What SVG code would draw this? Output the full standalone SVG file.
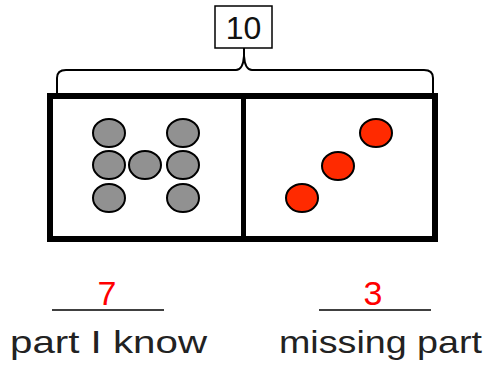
<svg xmlns="http://www.w3.org/2000/svg" width="486" height="366" viewBox="0 0 486 366">
<style>
.thin{fill:none;stroke:#000;stroke-width:2}
.gray{fill:#919191;stroke:#000;stroke-width:2}
.red{fill:#ff2a00;stroke:#000;stroke-width:2}
.lbl{font-family:"Liberation Sans",Arial,sans-serif;font-size:32px;fill:#222}
.num{font-family:"Liberation Sans",Arial,sans-serif;font-size:34px;fill:#ff0000;text-anchor:middle}
</style>
<rect width="486" height="366" fill="#fff"/>
<g id="total">
<rect x="215" y="6" width="57" height="42" fill="#fff" stroke="#000" stroke-width="1.5"/>
<text x="243.5" y="39" text-anchor="middle" font-family="Liberation Sans,Arial,sans-serif" font-size="32" fill="#111">10</text>
</g>
<g id="connectors">
<path class="thin" d="M57,93 V78 Q57,70 66,70 H236 Q243,70 244,56 V48 M244,56 Q245,70 252,70 H424 Q433,70 433,78 V93"/>
</g>
<g id="bar">
<rect x="50" y="96" width="385" height="143" fill="#fff" stroke="#000" stroke-width="6"/>
<line x1="243.5" y1="96" x2="243.5" y2="239" stroke="#000" stroke-width="5"/>
</g>
<g id="known-dots">
<ellipse class="gray" cx="109" cy="133" rx="16" ry="14"/>
<ellipse class="gray" cx="183" cy="133" rx="16" ry="14"/>
<ellipse class="gray" cx="109" cy="165" rx="16" ry="14"/>
<ellipse class="gray" cx="145" cy="165" rx="16" ry="14"/>
<ellipse class="gray" cx="183" cy="165" rx="16" ry="14"/>
<ellipse class="gray" cx="109" cy="198" rx="16" ry="14"/>
<ellipse class="gray" cx="183" cy="198" rx="16" ry="14"/>
</g>
<g id="missing-dots">
<ellipse class="red" cx="376" cy="133" rx="16" ry="14"/>
<ellipse class="red" cx="338" cy="166" rx="16" ry="14"/>
<ellipse class="red" cx="302" cy="198" rx="16" ry="14"/>
</g>
<g id="known-label">
<line x1="52" y1="310" x2="164" y2="310" stroke="#000" stroke-width="1.5"/>
<text class="num" x="107" y="305">7</text>
<text class="lbl" x="10" y="353" textLength="197" lengthAdjust="spacingAndGlyphs">part I know</text>
</g>
<g id="missing-label">
<line x1="319" y1="310" x2="431" y2="310" stroke="#000" stroke-width="1.5"/>
<text class="num" x="373" y="305">3</text>
<text class="lbl" x="279" y="353" textLength="203" lengthAdjust="spacingAndGlyphs">missing part</text>
</g>
</svg>
